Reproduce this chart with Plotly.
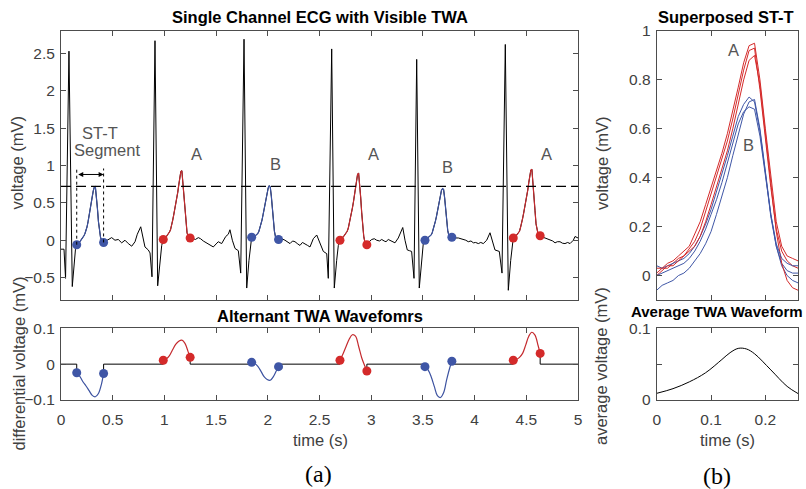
import plotly.graph_objects as go

# ---------------- data ----------------
# black ECG pieces between ST-T segments (time s, voltage mV)
seg_t = [
    [0.0, 0.029, 0.044, 0.077, 0.109, 0.125, 0.14],
    [0.435, 0.457, 0.49, 0.522, 0.554, 0.587, 0.619, 0.651, 0.684, 0.716, 0.738, 0.771, 0.79, 0.812, 0.844, 0.861, 0.88, 0.909, 0.935, 0.957, 0.974],
    [1.28, 1.30, 1.328, 1.35, 1.376, 1.40, 1.425, 1.45, 1.473, 1.50, 1.521, 1.554, 1.593, 1.618, 1.634, 1.657, 1.683, 1.715, 1.738, 1.77, 1.796, 1.818, 1.838],
    [2.135, 2.166, 2.19, 2.215, 2.24, 2.263, 2.29, 2.311, 2.335, 2.36, 2.385, 2.408, 2.44, 2.473, 2.505, 2.537, 2.57, 2.585, 2.618, 2.643, 2.666, 2.682],
    [2.98, 3.005, 3.03, 3.053, 3.08, 3.102, 3.125, 3.143, 3.165, 3.182, 3.205, 3.23, 3.262, 3.285, 3.305, 3.327, 3.349, 3.37, 3.391, 3.414, 3.44, 3.465, 3.488, 3.504],
    [3.81, 3.843, 3.87, 3.891, 3.915, 3.939, 3.965, 3.988, 4.01, 4.036, 4.06, 4.084, 4.117, 4.149, 4.175, 4.197, 4.239, 4.265, 4.297, 4.326, 4.349, 4.365],
    [4.655, 4.681, 4.705, 4.729, 4.755, 4.778, 4.80, 4.826, 4.85, 4.874, 4.90, 4.923, 4.955, 4.971, 5.0],
]
seg_v = [
    [-0.12, -0.12, -0.51, 2.53, -0.62, -0.30, -0.12],
    [-0.01, 0.01, 0.035, 0.0, 0.01, -0.035, 0.0, -0.045, -0.08, -0.02, 0.08, 0.18, 0.07, -0.09, -0.13, -0.17, -0.49, 2.67, -0.61, -0.31, -0.07],
    [0.02, 0.01, 0.035, 0.02, -0.01, -0.03, -0.045, -0.06, -0.09, -0.05, -0.02, -0.045, 0.05, 0.08, 0.14, 0.0, -0.11, -0.14, -0.44, 2.69, -0.64, -0.27, 0.0],
    [0.02, 0.0, -0.02, -0.045, -0.01, -0.02, -0.05, -0.07, -0.03, -0.045, -0.07, -0.09, 0.02, 0.07, -0.045, -0.15, -0.18, -0.51, 2.56, -0.64, -0.27, -0.07],
    [-0.02, 0.01, 0.02, 0.0, -0.01, 0.01, -0.01, -0.02, 0.01, 0.0, -0.02, -0.035, 0.03, 0.10, 0.17, 0.0, -0.13, -0.14, -0.15, -0.51, 2.42, -0.64, -0.27, -0.04],
    [0.03, 0.03, 0.02, 0.015, 0.0, -0.02, -0.01, -0.035, -0.03, -0.045, -0.03, -0.045, 0.0, 0.10, -0.045, -0.13, -0.15, -0.44, 2.62, -0.67, -0.27, 0.0],
    [0.04, 0.03, 0.02, 0.0, -0.01, -0.035, -0.02, -0.02, -0.04, -0.045, -0.03, -0.045, 0.0, 0.05, 0.03],
]

# ST-T segments
beat_class = ["B", "A", "B", "A", "B", "A"]
stt_start = [0.152, 0.989, 1.844, 2.698, 3.520, 4.374]
stt_rel_t = [0.00, 0.01, 0.02, 0.03, 0.04, 0.05, 0.06, 0.07, 0.08, 0.09, 0.10, 0.11, 0.12, 0.13,
             0.14, 0.15, 0.16, 0.17, 0.18, 0.19, 0.20, 0.21, 0.22, 0.23, 0.24, 0.25, 0.26]
stt_v = [
    [-0.06, -0.04, -0.03, -0.02, 0.00, 0.01, 0.03, 0.06, 0.09, 0.13, 0.18, 0.25, 0.32, 0.40, 0.49, 0.58, 0.66, 0.71, 0.72, 0.60, 0.43, 0.25, 0.12, 0.04, 0.00, -0.02, -0.03],
    [0.01, 0.03, 0.03, 0.05, 0.07, 0.08, 0.11, 0.14, 0.19, 0.26, 0.33, 0.40, 0.47, 0.55, 0.64, 0.74, 0.84, 0.92, 0.93, 0.76, 0.56, 0.36, 0.19, 0.10, 0.06, 0.04, 0.03],
    [0.04, 0.03, 0.04, 0.05, 0.06, 0.07, 0.09, 0.12, 0.16, 0.21, 0.27, 0.34, 0.41, 0.49, 0.57, 0.65, 0.70, 0.73, 0.71, 0.59, 0.42, 0.24, 0.12, 0.05, 0.02, 0.01, 0.01],
    [0.00, 0.02, 0.04, 0.04, 0.06, 0.08, 0.10, 0.12, 0.16, 0.22, 0.29, 0.36, 0.43, 0.51, 0.60, 0.70, 0.80, 0.88, 0.90, 0.78, 0.58, 0.37, 0.18, 0.05, -0.02, -0.05, -0.06],
    [0.00, 0.01, 0.02, 0.03, 0.04, 0.05, 0.07, 0.10, 0.14, 0.19, 0.25, 0.31, 0.38, 0.46, 0.54, 0.62, 0.67, 0.69, 0.68, 0.57, 0.41, 0.25, 0.13, 0.07, 0.05, 0.04, 0.04],
    [0.03, 0.03, 0.05, 0.06, 0.08, 0.10, 0.12, 0.17, 0.22, 0.29, 0.36, 0.43, 0.50, 0.58, 0.67, 0.77, 0.87, 0.94, 0.95, 0.80, 0.60, 0.40, 0.22, 0.12, 0.08, 0.07, 0.06],
]

# alternant TWA waveforms (differential voltage)
twa_rel_t = [0.00, 0.03, 0.06, 0.09, 0.12, 0.15, 0.18, 0.21, 0.24, 0.26]
twa_v = [
    [-0.024, -0.034, -0.049, -0.061, -0.074, -0.087, -0.091, -0.082, -0.055, -0.026],
    [0.011, 0.015, 0.024, 0.040, 0.055, 0.064, 0.067, 0.058, 0.035, 0.019],
    [0.005, 0.002, -0.006, -0.020, -0.035, -0.043, -0.045, -0.035, -0.018, -0.007],
    [0.011, 0.029, 0.050, 0.070, 0.082, 0.078, 0.050, 0.018, -0.005, -0.019],
    [-0.007, -0.016, -0.035, -0.062, -0.088, -0.093, -0.080, -0.043, -0.010, 0.008],
    [0.011, 0.013, 0.019, 0.030, 0.053, 0.078, 0.089, 0.081, 0.052, 0.030],
]

# average TWA waveform
avg_t = [0.0, 0.03, 0.06, 0.09, 0.12, 0.135, 0.15, 0.165, 0.18, 0.21, 0.24, 0.26]
avg_v = [0.0093, 0.0158, 0.0253, 0.038, 0.0565, 0.066, 0.0720, 0.0712, 0.0645, 0.042, 0.019, 0.009]

dash_level = 0.72

# ---------------- styling ----------------
W, H = 806, 489
RED, BLUE = "#D42A2A", "#3F56A6"
RED_L, BLUE_L = "#C42A2E", "#3C52A0"
col = {"A": (RED_L, RED), "B": (BLUE_L, BLUE)}
FONT = "Liberation Sans, Arial, sans-serif"
TXT = "#404040"
AX = "#4D4D4D"

def px(x):
    return x / W

def py(y):
    return 1 - y / H

fig = go.Figure()

# main ECG black trace (full, including ST-T pieces)
ecg_t, ecg_v = [], []
for i in range(len(seg_t)):
    ecg_t += seg_t[i]
    ecg_v += seg_v[i]
    if i < len(stt_start):
        ecg_t += [stt_start[i] + r for r in stt_rel_t]
        ecg_v += stt_v[i]
fig.add_trace(go.Scatter(x=ecg_t, y=ecg_v, mode="lines", line=dict(color="black", width=1),
                         xaxis="x", yaxis="y", hoverinfo="skip"))

for i, c in enumerate(beat_class):
    lc, mc = col[c]
    tt = [stt_start[i] + r for r in stt_rel_t]
    fig.add_trace(go.Scatter(x=tt, y=stt_v[i], mode="lines", line=dict(color=lc, width=1.2),
                             xaxis="x", yaxis="y"))
    fig.add_trace(go.Scatter(x=[tt[0], tt[-1]], y=[stt_v[i][0], stt_v[i][-1]], mode="markers",
                             marker=dict(color=mc, size=9), xaxis="x", yaxis="y"))
    # superposed
    fig.add_trace(go.Scatter(x=stt_rel_t, y=stt_v[i], mode="lines", line=dict(color=mc, width=1),
                             xaxis="x3", yaxis="y3"))

# TWA zero line with vertical steps
zx, zy = [0.0], [0.0]
for i in range(len(stt_start)):
    s = stt_start[i]
    e = s + twa_rel_t[-1]
    zx += [s, s, None, e, e]
    zy += [0.0, twa_v[i][0], None, twa_v[i][-1], 0.0]
zx += [5.0]
zy += [0.0]
fig.add_trace(go.Scatter(x=zx, y=zy, mode="lines", line=dict(color="black", width=1),
                         xaxis="x2", yaxis="y2", connectgaps=False))
for i, c in enumerate(beat_class):
    lc, mc = col[c]
    tt = [stt_start[i] + r for r in twa_rel_t]
    fig.add_trace(go.Scatter(x=tt, y=twa_v[i], mode="lines", line=dict(color=lc, width=1.2, shape="spline"),
                             xaxis="x2", yaxis="y2"))
    fig.add_trace(go.Scatter(x=[tt[0], tt[-1]], y=[twa_v[i][0], twa_v[i][-1]], mode="markers",
                             marker=dict(color=mc, size=9), xaxis="x2", yaxis="y2"))

fig.add_trace(go.Scatter(x=avg_t, y=avg_v, mode="lines", line=dict(color="black", width=1, shape="spline"),
                         xaxis="x4", yaxis="y4"))

# ---------------- axes ----------------
def ax(**kw):
    base = dict(showline=True, linecolor=AX, linewidth=1, mirror="ticks", ticks="inside",
                ticklen=5, tickcolor=AX, zeroline=False, showgrid=False,
                tickfont=dict(family=FONT, size=15.5, color=TXT))
    base.update(kw)
    return base

xa = [px(61), px(578)]
xb = [px(656.7), px(798)]
ya = [py(300), py(31)]
yb = [py(400), py(328.3)]

fig.update_layout(
    width=W, height=H, margin=dict(l=0, r=0, t=0, b=0, autoexpand=False),
    paper_bgcolor="white", plot_bgcolor="white", showlegend=False,
    xaxis=ax(domain=xa, range=[0, 5], anchor="y", dtick=0.5, showticklabels=False),
    yaxis=ax(domain=ya, range=[-0.8, 2.8], anchor="x", tickvals=[-0.5, 0, 0.5, 1, 1.5, 2, 2.5], ticklabelstandoff=2),
    xaxis2=ax(domain=xa, range=[0, 5], anchor="y2", dtick=0.5, ticklabelstandoff=5),
    yaxis2=ax(domain=yb, range=[-0.1, 0.1], anchor="x2", tickvals=[-0.1, 0, 0.1], ticklabelstandoff=2),
    xaxis3=ax(domain=xb, range=[0, 0.26], anchor="y3", tickvals=[0.1, 0.2], showticklabels=False),
    yaxis3=ax(domain=ya, range=[-0.1, 1.0], anchor="x3", tickvals=[0, 0.2, 0.4, 0.6, 0.8, 1], ticklabelstandoff=2),
    xaxis4=ax(domain=xb, range=[0, 0.26], anchor="y4", tickvals=[0, 0.1, 0.2], ticklabelstandoff=5),
    yaxis4=ax(domain=yb, range=[0, 0.1], anchor="x4", tickvals=[0, 0.05, 0.1], ticktext=["0", "", "0.1"], ticklabelstandoff=2),
)

# dashed reference line and ST-T markers
t0 = stt_start[0]
t1 = stt_start[0] + stt_rel_t[-1]
fig.add_shape(type="line", xref="x", yref="y", x0=0, x1=5, y0=dash_level, y1=dash_level,
              line=dict(color="black", width=1.2, dash="10px,5px"))
fig.add_shape(type="line", xref="x", yref="y", x0=t0, x1=t0, y0=stt_v[0][0], y1=0.96,
              line=dict(color="black", width=1, dash="dot"))
fig.add_shape(type="line", xref="x", yref="y", x0=t1, x1=t1, y0=stt_v[0][-1], y1=0.96,
              line=dict(color="black", width=1, dash="dot"))

ann = []
ann.append(dict(x=t1, y=0.88, ax=t0, ay=0.88, xref="x", yref="y", axref="x", ayref="y", text="",
                showarrow=True, arrowhead=2, arrowside="end+start", arrowsize=1, arrowwidth=1, arrowcolor="black"))

def label(text, x, y, size=16, color=TXT, bold=False, angle=0, family=FONT):
    t = "<b>%s</b>" % text if bold else text
    ann.append(dict(text=t, x=px(x), y=py(y), xref="paper", yref="paper", showarrow=False,
                    xanchor="center", yanchor="middle", textangle=angle,
                    font=dict(family=family, size=size, color=color)))

label("Single Channel ECG with Visible TWA", 319.5, 16.5, size=16.5, color="black", bold=True)
label("Alternant TWA Wavefomrs", 320, 316, size=16.5, color="black", bold=True)
label("Superposed ST-T", 726, 16.5, size=16.5, color="black", bold=True)
label("Average TWA Waveform", 717, 311, size=15, color="black", bold=True)
label("voltage (mV)", 16.5, 163, angle=-90, size=16.5)
label("differential voltage (mV)", 18.5, 364, angle=-90, size=16.5)
label("voltage (mV)", 602, 163, angle=-90, size=16.5)
label("average voltage (mV)", 601, 366, angle=-90, size=16.5)
label("time (s)", 320, 440, size=16.5)
label("time (s)", 727, 440, size=16.5)
label("(a)", 318, 474, size=24, color="black", family="Liberation Serif, Times New Roman, serif")
label("(b)", 717, 476, size=24, color="black", family="Liberation Serif, Times New Roman, serif")

# in-axes labels
for txt, x, y in [("ST-T", 0.38, 1.44), ("Segment", 0.445, 1.21), ("A", 1.306, 1.15), ("B", 2.07, 1.02),
                  ("A", 3.02, 1.15), ("B", 3.74, 0.98), ("A", 4.70, 1.15)]:
    ann.append(dict(text=txt, x=x, y=y, xref="x", yref="y", showarrow=False,
                    font=dict(family=FONT, size=16.5, color="#555555")))
for txt, x, y in [("A", 0.142, 0.922), ("B", 0.168, 0.532)]:
    ann.append(dict(text=txt, x=x, y=y, xref="x3", yref="y3", showarrow=False,
                    font=dict(family=FONT, size=16.5, color="#555555")))

fig.update_layout(annotations=ann)
fig.write_html("out.html", config={"displayModeBar": False},
               post_script="document.body.style.margin='0';document.body.style.overflow='hidden';")
